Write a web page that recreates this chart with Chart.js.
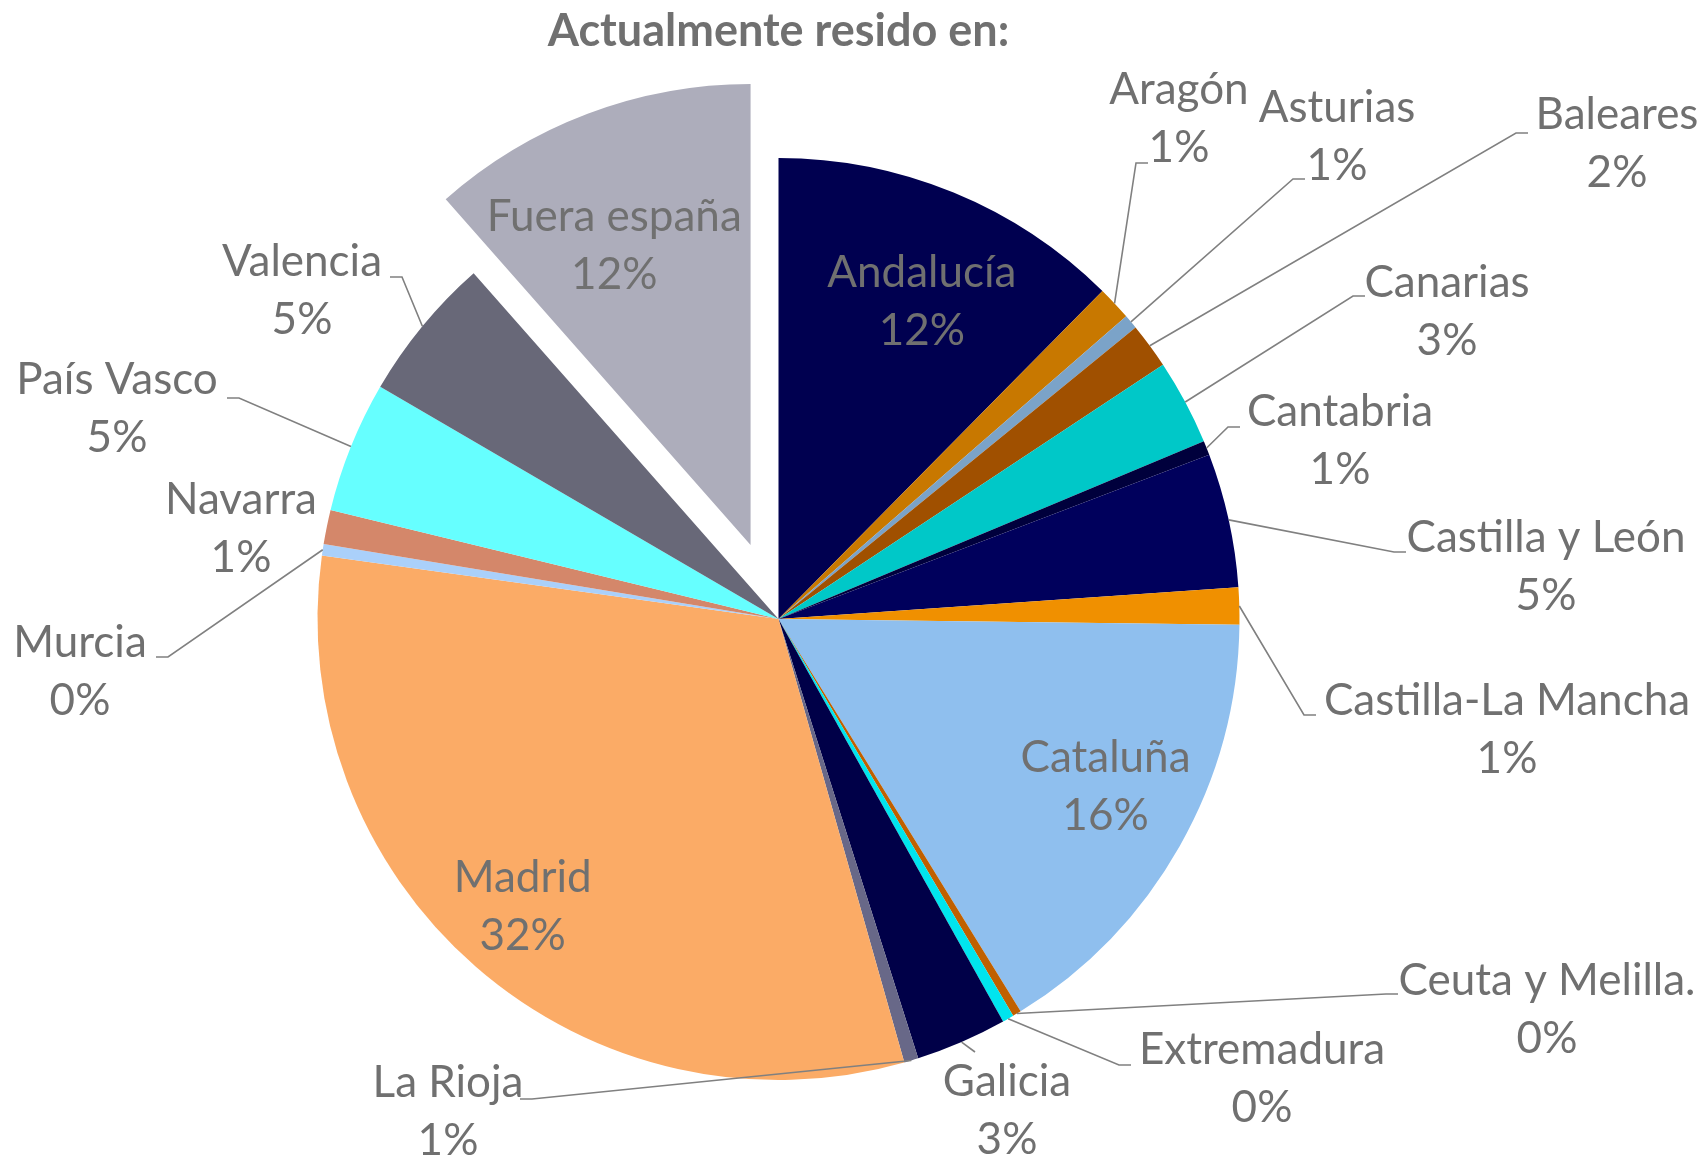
<!DOCTYPE html>
<html>
<head>
<meta charset="utf-8">
<title>Actualmente resido en</title>
<script src="https://cdn.jsdelivr.net/npm/chart.js@4.4.1/dist/chart.umd.min.js"></script>
<style>
  html, body { margin: 0; padding: 0; background: #fff; }
</style>
</head>
<body>
<canvas id="pieChart" width="1704" height="1160"></canvas>
<script>
// data (percent of answers), clockwise from 12 o'clock
const regions = ['Andalucía', 'Aragón', 'Asturias', 'Baleares', 'Canarias', 'Cantabria',
  'Castilla y León', 'Castilla-La Mancha', 'Cataluña', 'Ceuta y Melilla.', 'Extremadura',
  'Galicia', 'La Rioja', 'Madrid', 'Murcia', 'Navarra', 'País Vasco', 'Valencia', 'Fuera españa'];
const shares = [12.4, 1.2, 0.5, 1.6, 3.0, 0.5, 4.7, 1.3, 16.0, 0.3, 0.4, 3.2, 0.5, 31.6, 0.4, 1.2, 4.6, 5.1, 11.5];
const explodedRegion = 'Fuera españa';

const sliceColors = ['#000050', '#C87800', '#7BA3C8', '#A05000', '#00C8C8', '#00003C',
  '#00005C', '#F09000', '#8FBFEE', '#C06000', '#00E5EE', '#000048', '#686888', '#FBAB66',
  '#AAD0FA', '#D4876A', '#66FFFF', '#686878', '#ADADBB'];

const textColor = '#707070';
const lineColor = '#808080';
const fontFamily = 'Lato, "Open Sans", sans-serif';
const labelSize = 44;
const lineGap = 58;
const pieRadius = 461;
const explodeDist = 79;

// label placement: inside labels sit on the slice (radius factor + small turn in degrees),
// outside ones: (x, y) = centre of the name line, (ex, ey) = elbow of the leader,
// stub = direction of the short horizontal end
const labelLayout = {
  'Andalucía': { inside: 0.755, turn: 2 },
  'Cataluña': { inside: 0.797, turn: -2.4 },
  'Madrid': { inside: 0.835, turn: 0.6 },
  'Fuera españa': { inside: 0.713, turn: -3.8 },
  'Aragón': { x: 1179, y: 90, ex: 1136, ey: 163, stub: 1 },
  'Asturias': { x: 1337, y: 108, ex: 1293, ey: 179, stub: 1 },
  'Baleares': { x: 1617, y: 115, ex: 1516, ey: 133, stub: 1 },
  'Canarias': { x: 1447, y: 283, ex: 1353, ey: 296, stub: 1 },
  'Cantabria': { x: 1340, y: 412, ex: 1228, ey: 427, stub: 1 },
  'Castilla y León': { x: 1546, y: 538, ex: 1394, ey: 552, stub: 1 },
  'Castilla-La Mancha': { x: 1507, y: 701, ex: 1304, ey: 715, stub: 1 },
  'Ceuta y Melilla.': { x: 1547, y: 981, ex: 1386, ey: 994, stub: 1 },
  'Extremadura': { x: 1262, y: 1050, ex: 1119, ey: 1065, stub: 1 },
  'Galicia': { x: 1007, y: 1082, ex: 975, ey: 1052, stub: 0 },
  'La Rioja': { x: 448, y: 1083, ex: 532, ey: 1099, stub: -1 },
  'Murcia': { x: 80, y: 643, ex: 168, ey: 657, stub: -1 },
  'Navarra': { x: 241, y: 500 },
  'País Vasco': { x: 117, y: 380, ex: 239, ey: 398, stub: -1 },
  'Valencia': { x: 302, y: 262, ex: 402, ey: 277, stub: -1 }
};

// pull the exploded slice out of the pie without growing its radius
// (chart.js' own `offset` option also enlarges the arc)
const explodeSlice = {
  id: 'explodeSlice',
  afterUpdate(chart) {
    const arc = chart.getDatasetMeta(0).data[regions.indexOf(explodedRegion)];
    if (!arc) return;
    const mid = (arc.startAngle + arc.endAngle) / 2;
    arc.x += Math.cos(mid) * explodeDist;
    arc.y += Math.sin(mid) * explodeDist;
  }
};

const sliceLabels = {
  id: 'sliceLabels',
  afterDatasetsDraw(chart) {
    const ctx = chart.ctx;
    const arcs = chart.getDatasetMeta(0).data;
    ctx.save();
    ctx.font = labelSize + 'px ' + fontFamily;
    ctx.fillStyle = textColor;
    ctx.textAlign = 'center';
    ctx.textBaseline = 'middle';
    arcs.forEach((arc, i) => {
      const name = regions[i];
      const lay = labelLayout[name];
      const p = arc.getProps(['x', 'y', 'startAngle', 'endAngle', 'outerRadius']);
      const mid = (p.startAngle + p.endAngle) / 2;
      const pct = Math.round(shares[i]) + '%';
      let lx, ly;
      if (lay.inside) {
        const a = mid + (lay.turn || 0) * Math.PI / 180;
        const r = p.outerRadius * lay.inside;
        lx = p.x + Math.cos(a) * r;
        ly = p.y + Math.sin(a) * r - lineGap / 2;
      } else {
        lx = lay.x;
        ly = lay.y;
        if (lay.ex !== undefined) {
          const sx = p.x + Math.cos(mid) * p.outerRadius;
          const sy = p.y + Math.sin(mid) * p.outerRadius;
          ctx.strokeStyle = lineColor;
          ctx.lineWidth = 1.6;
          ctx.beginPath();
          ctx.moveTo(sx, sy);
          ctx.lineTo(lay.ex, lay.ey);
          ctx.lineTo(lay.ex + lay.stub * 12, lay.ey);
          ctx.stroke();
        }
      }
      ctx.fillText(name, lx, ly);
      ctx.fillText(pct, lx, ly + lineGap);
    });
    ctx.restore();
  }
};

new Chart(document.getElementById('pieChart'), {
  type: 'pie',
  data: {
    labels: regions,
    datasets: [{
      data: shares,
      backgroundColor: sliceColors,
      borderWidth: 0,
      radius: pieRadius
    }]
  },
  options: {
    responsive: false,
    animation: false,
    layout: {
      padding: { top: 0, bottom: 40, left: 277, right: 424 }
    },
    plugins: {
      legend: { display: false },
      tooltip: { enabled: false },
      title: {
        display: true,
        text: 'Actualmente resido en:',
        color: textColor,
        font: { family: fontFamily, size: 45, weight: 'bold', lineHeight: 1.2 },
        padding: { top: 4, bottom: 60 }
      }
    }
  },
  plugins: [explodeSlice, sliceLabels]
});
</script>
</body>
</html>
